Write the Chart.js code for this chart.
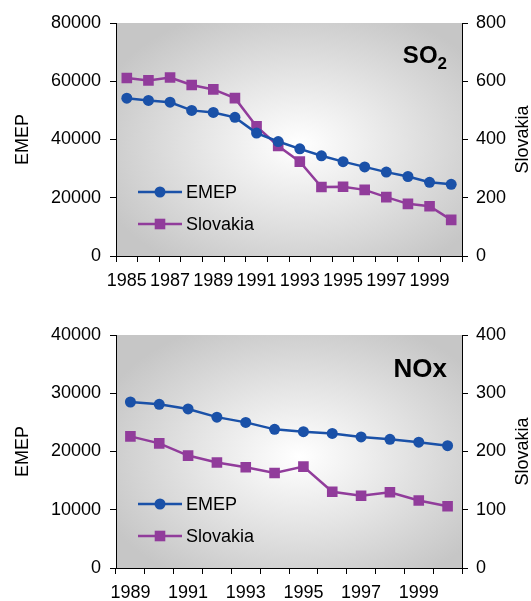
<!DOCTYPE html>
<html>
<head>
<meta charset="utf-8">
<script src="https://cdn.jsdelivr.net/npm/chart.js@4"></script>
<style>
  html, body { margin: 0; padding: 0; background: #fff; }
  #wrap { position: relative; width: 531px; height: 601px; }
  canvas { position: absolute; left: 0; }
</style>
</head>
<body>
<div id="wrap">
  <canvas id="so2Chart" width="531" height="300" style="top:0px"></canvas>
  <canvas id="noxChart" width="531" height="301" style="top:300px"></canvas>
</div>
<script>
// SO2 panel
const so2Years = ['1985','1986','1987','1988','1989','1990','1991','1992','1993','1994','1995','1996','1997','1998','1999','2000'];
const so2Emep = [54200, 53400, 52800, 50000, 49300, 47600, 42200, 39300, 36800, 34400, 32400, 30600, 28800, 27300, 25300, 24600];
const so2Slovakia = [611, 603, 613, 587, 572, 542, 445, 378, 324, 237, 238, 227, 202, 179, 171, 124];

// NOx panel
const noxYears = ['1989','1990','1991','1992','1993','1994','1995','1996','1997','1998','1999','2000'];
const noxEmep = [28500, 28100, 27300, 25900, 25000, 23800, 23400, 23100, 22500, 22100, 21600, 21000];
const noxSlovakia = [226, 214, 193, 181, 173, 163, 174, 131, 124, 130, 116, 106];

const seriesNames = ['EMEP', 'Slovakia'];

const BLUE = '#1a51a8';
const PURPLE = '#913c9b';
const FONT = '"Liberation Sans", Arial, Helvetica, sans-serif';

// grey box with a soft white glow in the middle
const bgPlugin = {
  id: 'bgGlow',
  beforeDraw(chart) {
    const {ctx, chartArea: a} = chart;
    const cx = (a.left + a.right) / 2 + 10, cy = (a.top + a.bottom) / 2 + 5;
    const rx = (a.right - a.left) * 0.62, ry = (a.bottom - a.top) * 0.62;
    ctx.save();
    ctx.beginPath();
    ctx.rect(a.left, a.top, a.right - a.left, a.bottom - a.top);
    ctx.clip();
    ctx.translate(cx, cy);
    ctx.scale(rx / ry, 1);
    const g = ctx.createRadialGradient(0, 0, 0, 0, 0, ry);
    g.addColorStop(0, '#ffffff');
    g.addColorStop(0.45, '#e6e6e6');
    g.addColorStop(1, '#c6c6c6');
    ctx.fillStyle = g;
    ctx.fillRect(-rx * 2, -ry * 2, rx * 4, ry * 4);
    ctx.restore();
  }
};

// legend inside the plot + corner title + right axis title
const overlayPlugin = {
  id: 'overlay',
  afterDraw(chart, args, opts) {
    const {ctx, chartArea: a} = chart;
    ctx.save();
    // legend
    chart.data.datasets.forEach((ds, i) => {
      const y = a.bottom - 64 + i * 32;
      const x0 = a.left + 22, x1 = a.left + 66;
      ctx.strokeStyle = ds.borderColor;
      ctx.lineWidth = ds.borderWidth;
      ctx.beginPath();
      ctx.moveTo(x0, y);
      ctx.lineTo(x1, y);
      ctx.stroke();
      ctx.fillStyle = ds.backgroundColor;
      ctx.beginPath();
      if (ds.pointStyle === 'rect') {
        const s = ds.pointRadius * Math.SQRT1_2;
        ctx.rect((x0 + x1) / 2 - s, y - s, 2 * s, 2 * s);
      } else {
        ctx.arc((x0 + x1) / 2, y, ds.pointRadius, 0, Math.PI * 2);
      }
      ctx.fill();
      ctx.fillStyle = '#000';
      ctx.font = '18px ' + FONT;
      ctx.textAlign = 'left';
      ctx.textBaseline = 'middle';
      ctx.fillText(ds.label, x1 + 4, y + 1);
    });
    // corner title
    ctx.fillStyle = '#000';
    ctx.textBaseline = 'alphabetic';
    ctx.textAlign = 'right';
    let xr = a.right - 15;
    if (opts.sub) {
      ctx.font = 'bold 17px ' + FONT;
      ctx.fillText(opts.sub, xr, opts.baseline + 6);
      xr -= ctx.measureText(opts.sub).width;
    }
    ctx.font = 'bold ' + opts.size + 'px ' + FONT;
    ctx.fillText(opts.text, xr, opts.baseline);
    // right axis title, reading bottom to top
    ctx.translate(523, (a.top + a.bottom) / 2);
    ctx.rotate(-Math.PI / 2);
    ctx.textAlign = 'center';
    ctx.textBaseline = 'middle';
    ctx.font = '18px ' + FONT;
    ctx.fillText(opts.rightTitle, 0, 0);
    ctx.restore();
  }
};

function makeChart(id, years, emep, slovakia, leftMax, leftStep, rightMax, rightStep, padTop, xHeight, title) {
  const ctx = document.getElementById(id).getContext('2d');
  return new Chart(ctx, {
    type: 'line',
    data: {
      labels: years,
      datasets: [
        {
          label: seriesNames[0],
          data: emep,
          yAxisID: 'y',
          borderColor: BLUE,
          backgroundColor: BLUE,
          borderWidth: 2.5,
          pointStyle: 'circle',
          pointRadius: 5.5,
          pointBorderWidth: 0,
          tension: 0
        },
        {
          label: seriesNames[1],
          data: slovakia,
          yAxisID: 'y1',
          borderColor: PURPLE,
          backgroundColor: PURPLE,
          borderWidth: 2.5,
          pointStyle: 'rect',
          pointRadius: 7.5,
          pointBorderWidth: 0,
          tension: 0
        }
      ]
    },
    options: {
      responsive: false,
      animation: false,
      layout: { padding: { top: padTop, left: 0, right: 0, bottom: 0 } },
      plugins: {
        legend: { display: false },
        tooltip: { enabled: false },
        overlay: title
      },
      scales: {
        x: {
          type: 'category',
          offset: true,
          afterFit: s => { s.height = xHeight; },
          grid: { offset: true, drawOnChartArea: false, drawTicks: true, tickLength: 6, color: '#000' },
          border: { display: true, color: '#000', width: 1 },
          ticks: {
            autoSkip: false,
            maxRotation: 0,
            padding: 8,
            color: '#000',
            font: { size: 18, family: FONT },
            callback: function (v, i) { return i % 2 === 0 ? this.getLabelForValue(v) : ''; }
          }
        },
        y: {
          position: 'left',
          min: 0, max: leftMax,
          afterFit: s => { s.width = 116; },
          grid: { drawOnChartArea: false, drawTicks: true, tickLength: 6, color: '#000' },
          border: { display: true, color: '#000', width: 1 },
          ticks: { stepSize: leftStep, padding: 9, color: '#000', font: { size: 18, family: FONT }, callback: v => String(v) },
          title: { display: true, text: 'EMEP', color: '#000', font: { size: 18, family: FONT }, padding: { top: 12, bottom: 0 } }
        },
        y1: {
          position: 'right',
          min: 0, max: rightMax,
          afterFit: s => { s.width = 69; },
          grid: { drawOnChartArea: false, drawTicks: true, tickLength: 6, color: '#000' },
          border: { display: true, color: '#000', width: 1 },
          ticks: { stepSize: rightStep, padding: 8, color: '#000', font: { size: 18, family: FONT }, callback: v => String(v) }
        }
      }
    },
    plugins: [bgPlugin, overlayPlugin]
  });
}

makeChart('so2Chart', so2Years, so2Emep, so2Slovakia, 80000, 20000, 800, 200, 23, 44,
  { text: 'SO', sub: '2', size: 24, baseline: 63, rightTitle: 'Slovakia' });
makeChart('noxChart', noxYears, noxEmep, noxSlovakia, 40000, 10000, 400, 100, 35, 33,
  { text: 'NOx', sub: '', size: 26, baseline: 77, rightTitle: 'Slovakia' });
</script>
</body>
</html>
